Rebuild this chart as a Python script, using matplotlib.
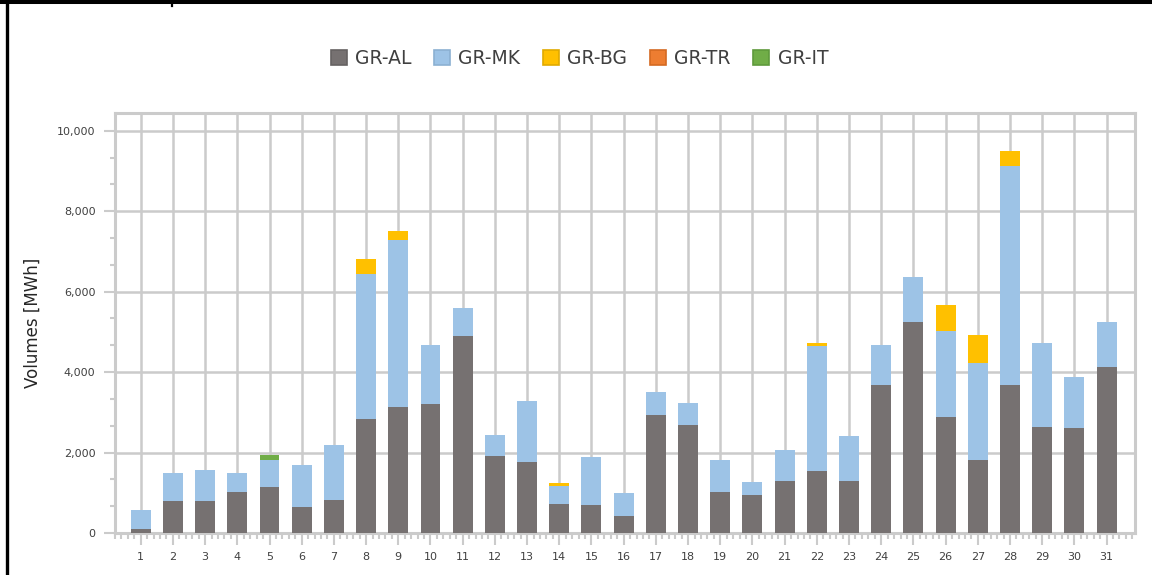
import matplotlib
matplotlib.use("Agg")
import matplotlib.pyplot as plt
from matplotlib.lines import Line2D
from matplotlib.patches import Patch
from matplotlib.ticker import MultipleLocator, FuncFormatter
import numpy as np

days = list(range(1, 32))
series = ["GR-AL", "GR-MK", "GR-BG", "GR-TR", "GR-IT"]

gr_al = [100, 790, 790, 1010, 1140, 640, 810, 2830, 3125, 3200, 4890, 1910, 1760, 730, 700, 415,
         2930, 2680, 1010, 940, 1285, 1535, 1285, 3675, 5240, 2880, 1810, 3675, 2625, 2600, 4125]
gr_mk = [470, 700, 770, 480, 670, 1045, 1370, 3605, 4165, 1470, 700, 520, 1515, 440, 1190, 585,
         570, 545, 800, 325, 770, 3115, 1120, 995, 1120, 2135, 2410, 5455, 2095, 1275, 1115]
gr_bg = [0, 0, 0, 0, 0, 0, 0, 375, 215, 0, 0, 0, 0, 75, 0, 0,
         0, 0, 0, 0, 0, 75, 0, 0, 0, 650, 695, 365, 0, 0, 0]
gr_tr = [0] * 31
gr_it = [0, 0, 0, 0, 125, 0, 0, 0, 0, 0, 0, 0, 0, 0, 0, 0,
         0, 0, 0, 0, 0, 0, 0, 0, 0, 0, 0, 0, 0, 0, 0]

colors = ["#767171", "#9dc3e6", "#ffc000", "#ed7d31", "#70ad47"]
edges = ["#666262", "#8bb0d2", "#e0aa00", "#d46a22", "#5f9a3c"]
grid_c = "#cbcbcb"

fig = plt.figure(figsize=(11.52, 5.75), dpi=100)
ax = fig.add_axes([0.0998, 0.073, 0.8854, 0.7305])

x = np.array(days)
bottom = np.zeros(len(days))
for name, vals, c in zip(series, [gr_al, gr_mk, gr_bg, gr_tr, gr_it], colors):
    v = np.array(vals, dtype=float)
    ax.bar(x, v, width=0.62, bottom=bottom, color=c, linewidth=0, label=name, zorder=3)
    bottom += v

ax.set_xlim(0.2, 31.88)
ax.set_ylim(0, 10440)
ax.set_xticks(days)
ax.set_xticklabels([str(d) for d in days])
ax.xaxis.set_minor_locator(MultipleLocator(0.2))
ax.yaxis.set_major_locator(MultipleLocator(2000))
ax.yaxis.set_minor_locator(MultipleLocator(2000 / 3))
ax.yaxis.set_major_formatter(FuncFormatter(lambda v, p: f"{int(v):,}"))

ax.set_axisbelow(True)
ax.grid(True, which="major", color=grid_c, linewidth=1.8)
for s in ax.spines.values():
    s.set_color(grid_c)
    s.set_linewidth(2.2)

ax.tick_params(axis="x", which="major", length=8.5, width=1.5, color=grid_c,
               labelsize=8, labelcolor="#404040", pad=5)
ax.tick_params(axis="x", which="minor", length=4.2, width=1.5, color=grid_c)
ax.tick_params(axis="y", which="major", length=8, width=1.5, color=grid_c,
               labelsize=8, labelcolor="#404040", pad=6)
ax.tick_params(axis="y", which="minor", length=3.8, width=1.5, color=grid_c)

ax.set_ylabel("Volumes [MWh]", fontsize=12, color="#262626")
ax.yaxis.set_label_coords(-0.0716, 0.5)

handles = [Patch(facecolor=c, edgecolor=e, linewidth=1.2) for c, e in zip(colors, edges)]
fig.legend(handles, series, loc="center", bbox_to_anchor=(0.503, 0.899), ncol=5,
           frameon=False, fontsize=13.5, labelcolor="#404040",
           handlelength=0.85, handleheight=0.85, handletextpad=0.45, columnspacing=1.2)

# black frame edges from the original screenshot
fig.add_artist(Line2D([0, 1], [0.9965, 0.9965], color="black", linewidth=2.9, transform=fig.transFigure))
fig.add_artist(Line2D([0.0058, 0.0058], [0, 1], color="black", linewidth=2.4, transform=fig.transFigure))
fig.add_artist(Line2D([0.1493, 0.1493], [0.99, 1], color="black", linewidth=1.6, transform=fig.transFigure))

fig.savefig("out.png", dpi=100)
